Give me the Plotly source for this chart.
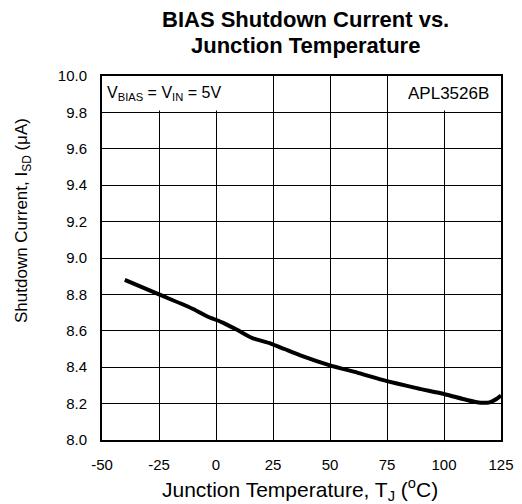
import plotly.graph_objects as go

temps = [-40, -25, -10, -4, 3, 10, 16, 24, 30, 37, 50, 62, 73, 88, 100, 110, 116, 120, 123, 125]
current = [8.88, 8.80, 8.72, 8.68, 8.645, 8.60, 8.56, 8.53, 8.50, 8.465, 8.41, 8.37, 8.33, 8.285, 8.253, 8.22, 8.205, 8.207, 8.225, 8.245]

x_ticks = [-50, -25, 0, 25, 50, 75, 100, 125]
y_ticks = [8.0, 8.2, 8.4, 8.6, 8.8, 9.0, 9.2, 9.4, 9.6, 9.8, 10.0]

title_lines = ["BIAS Shutdown Current vs.", "Junction Temperature"]

font = "Liberation Sans, Arial, sans-serif"

# page has an 8px body margin; figure coordinates = page coordinates - 8
W, H = 514, 496
L, R, T, B = 94, 21, 68, 64
PW, PH = W - L - R, H - T - B


def px(xf):
    return (xf - L) / PW


def py(yf):
    return 1 - (yf - T) / PH


fig = go.Figure()
fig.add_trace(go.Scatter(x=temps, y=current, mode="lines",
                         line=dict(color="black", width=4, shape="spline", smoothing=0.6),
                         showlegend=False))

fig.update_layout(
    width=W, height=H,
    margin=dict(l=L, r=R, t=T, b=B, autoexpand=False),
    paper_bgcolor="white", plot_bgcolor="white",
    font=dict(family=font, color="black", size=15),
    xaxis=dict(range=[-50, 125], tickvals=x_ticks, ticktext=[str(v) for v in x_ticks],
               showgrid=True, gridcolor="black", gridwidth=1, automargin=False,
               showline=True, linecolor="black", linewidth=2, mirror=True,
               zeroline=False, ticks="", tickfont=dict(size=15), ticklabelstandoff=10),
    yaxis=dict(range=[8.0, 10.0], tickvals=y_ticks, ticktext=[f"{v:.1f}" for v in y_ticks],
               showgrid=True, gridcolor="black", gridwidth=1, automargin=False,
               showline=True, linecolor="black", linewidth=2, mirror=True,
               zeroline=False, ticks="", tickfont=dict(size=15), ticklabelstandoff=10),
)

# chart title, two lines
for i, line in enumerate(title_lines):
    fig.add_annotation(x=px(297), y=py(11 + 26 * i), xref="paper", yref="paper",
                       xanchor="center", yanchor="middle", showarrow=False,
                       text=f"<b>{line}</b>", font=dict(size=22, family=font))

# x axis title
fig.add_annotation(x=px(292), y=py(481), xref="paper", yref="paper",
                   xanchor="center", yanchor="middle", showarrow=False,
                   text="Junction Temperature, T<sub>J</sub> (<sup>o</sup>C)",
                   font=dict(size=21, family=font))

# y axis title (placed above centre as in the reference)
fig.add_annotation(x=px(15), y=py(213), xref="paper", yref="paper",
                   xanchor="center", yanchor="middle", showarrow=False, textangle=-90,
                   text="Shutdown Current, I<sub>SD</sub> (μA)",
                   font=dict(size=17, family=font))

# white cells hiding gridlines behind the labels
fig.add_shape(type="rect", xref="x", yref="y", x0=-50, x1=23.5, y0=9.81, y1=10.0,
              fillcolor="white", line=dict(width=0), layer="between")
fig.add_shape(type="rect", xref="x", yref="y", x0=76, x1=125, y0=9.81, y1=10.0,
              fillcolor="white", line=dict(width=0), layer="between")

fig.add_annotation(x=-48.5, y=9.905, xref="x", yref="y", xanchor="left", yanchor="middle",
                   text="V<sub>BIAS</sub> = V<sub>IN</sub> = 5V", showarrow=False,
                   font=dict(size=16, family=font))
fig.add_annotation(x=120.5, y=9.905, xref="x", yref="y", xanchor="right", yanchor="middle",
                   text="APL3526B", showarrow=False,
                   font=dict(size=17, family=font))

fig.write_html("out.html")
